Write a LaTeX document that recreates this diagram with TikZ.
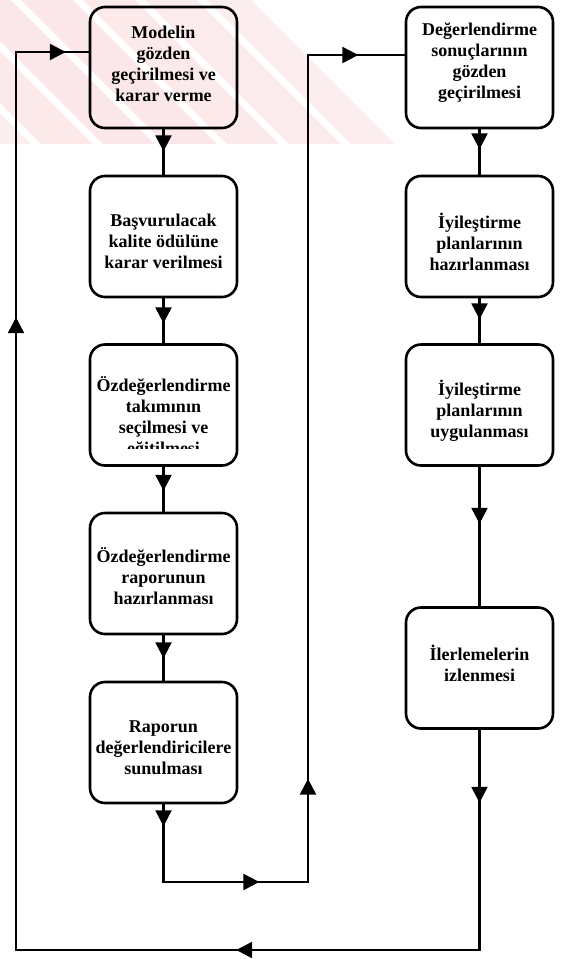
\documentclass[tikz,border=0pt]{standalone}
\usepackage{fontspec}
\setmainfont{Liberation Serif}
\usetikzlibrary{arrows.meta,decorations.markings,calc}

\definecolor{wmpink}{RGB}{226,60,70}
\pgfkeys{/pgf/decoration/tipmark/.style={mark=at position #1 with {\arrow{Triangle[length=16pt,width=16pt]}}}}

\begin{document}
\begin{tikzpicture}[x=1pt,y=-1pt,
  stepbox/.style={draw, line width=2.6pt, rounded corners=15pt,
    minimum width=147pt, minimum height=121pt, inner sep=0pt},
  boxtext/.style={inner sep=0pt, align=center,
    font=\fontsize{18}{21}\selectfont\bfseries},
  link/.style={line width=2.4pt},
  band/.style={fill=wmpink, draw=none},
]
\useasboundingbox (0,0) rectangle (563,959);

% faint diagonal watermark band at the top
\begin{scope}
  \clip (0,0) rectangle (395,143);
  \foreach \u/\w/\o in {-165/52/0.09, -103/52/0.11, -41/52/0.12, 21/52/0.12,
                        83/52/0.11, 145/52/0.10, 207/44/0.09}
    \fill[band, opacity=\o] (\u,0) -- ++(\w,0) -- ++(150,150) -- ++(-\w,0) -- cycle;
\end{scope}

% left column
\node[stepbox] (L1) at (163.5,67.5) {};
\node[boxtext] (L1t) at ($(L1)+(0,-4)$) {Modelin\\gözden\\geçirilmesi ve\\karar verme};
\node[stepbox] (L2) at (163.5,236.5) {};
\node[boxtext] (L2t) at ($(L2)+(0,5)$) {Başvurulacak\\kalite ödülüne\\karar verilmesi};
\node[stepbox] (L3) at (163.5,405) {};
\begin{scope}
  \clip (90,345) rectangle (237,448);
  \node[boxtext] (L3t) at ($(L3)+(0,12)$) {Özdeğerlendirme\\takımının\\seçilmesi ve\\eğitilmesi};
\end{scope}
\node[stepbox] (L4) at (163.5,573.5) {};
\node[boxtext] (L4t) at ($(L4)+(0,3)$) {Özdeğerlendirme\\raporunun\\hazırlanması};
\node[stepbox] (L5) at (163.5,742.5) {};
\node[boxtext] (L5t) at ($(L5)+(0,5)$) {Raporun\\değerlendiricilere\\sunulması};

% right column
\node[stepbox] (R1) at (479.5,67.5) {};
\node[boxtext] (R1t) at ($(R1)+(0,-5)$) {Değerlendirme\\sonuçlarının\\gözden\\geçirilmesi};
\node[stepbox] (R2) at (479.5,236.5) {};
\node[boxtext] (R2t) at ($(R2)+(0,5)$) {İyileştirme\\planlarının\\hazırlanması};
\node[stepbox] (R3) at (479.5,405) {};
\node[boxtext] (R3t) at ($(R3)+(0,6)$) {İyileştirme\\planlarının\\uygulanması};
\node[stepbox] (R4) at (479.5,668) {};
\node[boxtext] (R4t) at ($(R4)+(0,-5)$) {İlerlemelerin\\izlenmesi};

% corner points of the routed lines
\coordinate (lt) at (16,52);
\coordinate (lb) at (16,950);
\coordinate (rb) at (479.5,950);
\coordinate (mb) at (163.5,882);
\coordinate (mr) at (308,882);
\coordinate (mt) at (308,55);

% straight links in the columns
\draw[link, postaction={decorate, decoration={markings, tipmark=22pt}}] (L1.south) -- (L2.north);
\draw[link, postaction={decorate, decoration={markings, tipmark=25pt}}] (L2.south) -- (L3.north);
\draw[link, postaction={decorate, decoration={markings, tipmark=24pt}}] (L3.south) -- (L4.north);
\draw[link, postaction={decorate, decoration={markings, tipmark=23pt}}] (L4.south) -- (L5.north);
\draw[link, postaction={decorate, decoration={markings, tipmark=20pt}}] (R1.south) -- (R2.north);
\draw[link, postaction={decorate, decoration={markings, tipmark=21pt}}] (R2.south) -- (R3.north);
\draw[link, postaction={decorate, decoration={markings, tipmark=57pt}}] (R3.south) -- (R4.north);

% from the report to the evaluation results
\draw[link, postaction={decorate, decoration={markings,
    tipmark=22pt, tipmark=173.5pt, tipmark=325.5pt, tipmark=1099.5pt}}]
  (L5.south) -- (mb) -- (mr) -- (mt) -- (mt -| R1.west);

% feedback loop back to the model review
\draw[link, postaction={decorate, decoration={markings,
    tipmark=73pt, tipmark=463.5pt, tipmark=1316.5pt, tipmark=1631.5pt}}]
  (R4.south) -- (rb) -- (lb) -- (lt) -- (lt -| L1.west);
\end{tikzpicture}
\end{document}
